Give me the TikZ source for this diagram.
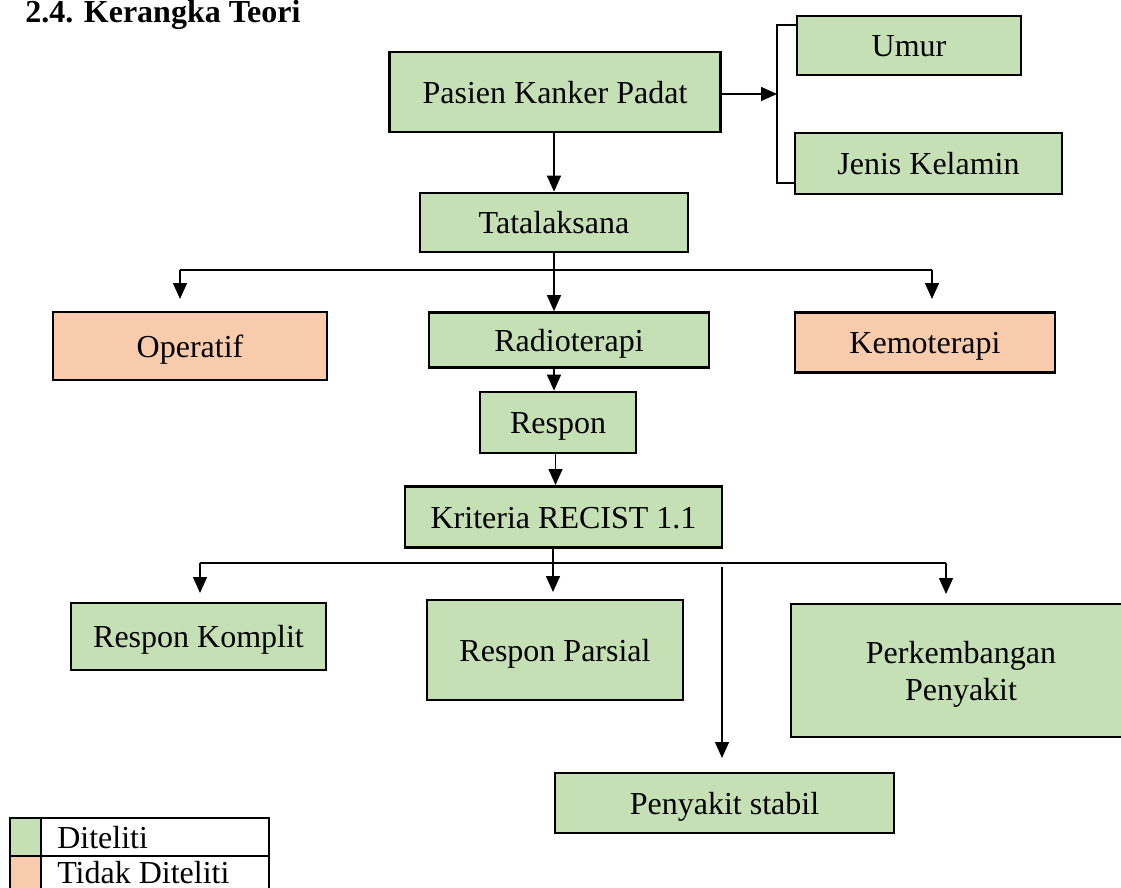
\documentclass[tikz,border=0pt]{standalone}
\usepackage{fontspec}
\setmainfont{Liberation Serif}
\usetikzlibrary{arrows.meta}
\definecolor{grn}{HTML}{C5E0B4}
\definecolor{slm}{HTML}{F8CBAD}
\begin{document}
\begin{tikzpicture}[x=0.75pt,y=-0.75pt,
  box/.style={draw=black, line width=2pt, fill=grn, inner sep=0pt, align=center,
    text height=19pt, text depth=2pt, font=\fontsize{24}{27.75}\selectfont},
  nd/.style={box, fill=slm},
  sz/.style 2 args={minimum width=0.75pt*#1, minimum height=0.75pt*#2},
  conn/.style={line width=1.1pt},
  arr/.style={conn, -{Triangle[width=10.5pt,length=12pt]}},
  txt/.style={inner sep=0pt, font=\fontsize{24}{27.75}\selectfont}]
\useasboundingbox (0,0) rectangle (1121,888);
\clip (0,0) rectangle (1121,888);

\node[txt, anchor=base west, font=\fontsize{24}{27.75}\selectfont\bfseries] (title) at (25,23) {2.4. Kerangka Teori};

% nodes
\node[box, sz={331}{80}] (pasien) at (555,92) {Pasien Kanker Padat};
\node[box, sz={224}{59}] (umur) at (909,45.5) {Umur};
\node[box, sz={267}{61}] (jk) at (928.5,163.5) {Jenis Kelamin};
\node[box, sz={268}{59}] (tata) at (554,222.5) {Tatalaksana};
\node[nd, sz={274}{68}] (oper) at (190,346) {Operatif};
\node[box, sz={280}{55}] (radio) at (569,340) {Radioterapi};
\node[nd, sz={260}{60}] (kemo) at (925,342.5) {Kemoterapi};
\node[box, sz={156}{61}] (respon) at (558,422.5) {Respon};
\node[box, sz={317}{61}] (krit) at (563.5,517) {Kriteria RECIST 1.1};
\node[box, sz={255}{67}] (komplit) at (198.5,636.5) {Respon Komplit};
\node[box, sz={256}{100}] (parsial) at (555,650) {Respon Parsial};
\node[box, sz={340}{133}, text height=46.75pt, text depth=2pt] (perk) at (961,670.5) {Perkembangan\\Penyakit};
\node[box, sz={339}{60}] (stabil) at (724.5,803) {Penyakit stabil};

% pasien -> bracket
\coordinate (bt) at (777,25);
\coordinate (bb) at (777,183);
\draw[conn] (umur.west |- bt) -- (bt) -- (bb) -- (jk.west |- bb);
\draw[arr] (pasien.east |- 0,94) -- (bt |- 0,94);

% pasien -> tatalaksana
\draw[arr] (pasien.south -| tata.south) -- (tata.north);

% tatalaksana branches
\coordinate (tbl) at (180,270);
\coordinate (tbr) at (932,270);
\coordinate (tol) at (180,299);
\coordinate (tor) at (932,299);
\draw[conn] (tbl) -- (tbr);
\draw[arr] (tbl) -- (tol);
\draw[arr] (tbr) -- (tor);
\draw[arr] (tata.south) -- (radio.north -| tata.south);

% radioterapi -> respon -> kriteria
\draw[arr] (radio.south -| tata.south) -- (respon.north -| tata.south);
\coordinate (rk) at (555.5,485);
\draw[arr] (respon.south -| rk) -- (rk);

% kriteria branches
\coordinate (kl) at (200,563);
\coordinate (kr) at (946,563);
\coordinate (kc) at (553,563);
\coordinate (klo) at (200,593);
\coordinate (kco) at (553,592);
\coordinate (kro) at (946,594);
\draw[conn] (kl) -- (kr);
\draw[conn] (krit.south -| kc) -- (kc);
\draw[arr] (kl) -- (klo);
\draw[arr] (kc) -- (kco);
\draw[arr] (kr) -- (kro);
\coordinate (ss) at (722,567);
\coordinate (se) at (722,758);
\draw[arr] (ss) -- (se);

% legend
\fill[grn] (10,818) rectangle (41,856);
\fill[slm] (10,856) rectangle (41,900);
\draw[line width=2pt] (10,818) rectangle (269,900);
\draw[line width=2pt] (41,818) -- (41,900);
\draw[line width=2pt] (10,856) -- (269,856);
\node[txt, anchor=base west] (l1) at (57,848) {Diteliti};
\node[txt, anchor=base west] (l2) at (57,883) {Tidak Diteliti};
\end{tikzpicture}
\end{document}
